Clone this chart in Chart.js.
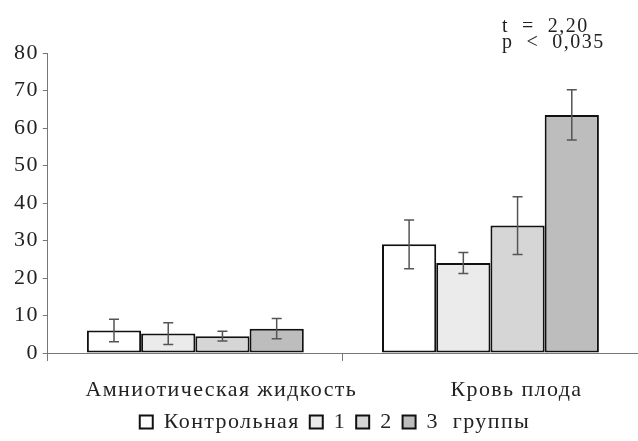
<!DOCTYPE html>
<html>
<head>
<meta charset="utf-8">
<script src="https://cdn.jsdelivr.net/npm/chart.js@4"></script>
<style>
  html, body { margin: 0; padding: 0; background: #fff; }
  #wrap { width: 638px; height: 441px; }
</style>
</head>
<body>
<div id="wrap"><canvas id="barChart"></canvas></div>
<script>
// категории и группы
const categories = ["Амниотическая жидкость", "Кровь плода"];
const groupNames = ["Контрольная", "1", "2", "3  группы"];

// средние значения по группам (контроль, 1, 2, 3)
const controlValues = [6, 29];
const group1Values = [5.2, 24];
const group2Values = [4.5, 34];
const group3Values = [6.5, 63.5];

// погрешности
const controlErr = [3, 6.5];
const group1Err = [2.9, 2.8];
const group2Err = [1.3, 7.7];
const group3Err = [2.7, 6.7];

const yTicks = [0, 10, 20, 30, 40, 50, 60, 70, 80];
const statLines = ["t  =  2,20", "p  <  0,035"];

const serif = "'Liberation Serif', 'DejaVu Serif', serif";

const fills = ["#ffffff", "#ebebeb", "#d6d6d6", "#bdbdbd"];
const allValues = [controlValues, group1Values, group2Values, group3Values];
const allErrors = [controlErr, group1Err, group2Err, group3Err];

const datasets = groupNames.map((name, i) => ({
  label: name,
  data: allValues[i],
  errors: allErrors[i],
  backgroundColor: fills[i],
  borderColor: "#111",
  borderWidth: 2,
  borderSkipped: false,
}));

// шрифт в скане шире обычного — немного разрядки
const spacing = {
  id: "spacing",
  beforeUpdate(chart) { chart.ctx.letterSpacing = "1.4px"; },
  beforeDraw(chart) { chart.ctx.letterSpacing = "1.4px"; },
  // легенда в оригинале чуть правее центра
  afterLayout(chart) {
    chart.legend.left += 11;
    chart.legend.right += 11;
  },
};

// усы погрешностей
const errorBars = {
  id: "errorBars",
  afterDatasetsDraw(chart) {
    const ctx = chart.ctx;
    const y = chart.scales.y;
    ctx.save();
    ctx.strokeStyle = "#555";
    ctx.lineWidth = 1.5;
    chart.data.datasets.forEach((ds, i) => {
      const meta = chart.getDatasetMeta(i);
      meta.data.forEach((bar, j) => {
        const v = ds.data[j], e = ds.errors[j];
        const yTop = y.getPixelForValue(v + e);
        const yBot = y.getPixelForValue(v - e);
        const x = bar.x;
        ctx.beginPath();
        ctx.moveTo(x, yTop); ctx.lineTo(x, yBot);
        ctx.moveTo(x - 5, yTop); ctx.lineTo(x + 5, yTop);
        ctx.moveTo(x - 5, yBot); ctx.lineTo(x + 5, yBot);
        ctx.stroke();
      });
    });
    ctx.restore();
  },
};

// подпись статистики
const statText = {
  id: "statText",
  afterDraw(chart) {
    const ctx = chart.ctx;
    ctx.save();
    ctx.fillStyle = "#222";
    ctx.font = "20px " + serif;
    ctx.letterSpacing = "1.5px";
    ctx.textBaseline = "alphabetic";
    ctx.fillText(statLines[0], 502, 32);
    ctx.fillText(statLines[1], 502, 48);
    ctx.restore();
  },
};

new Chart(document.getElementById("barChart"), {
  type: "bar",
  data: { labels: categories, datasets: datasets },
  plugins: [spacing, errorBars, statText],
  options: {
    responsive: true,
    maintainAspectRatio: false,
    animation: false,
    layout: { padding: { top: 53, right: 0, left: 10, bottom: -2 } },
    datasets: { bar: { categoryPercentage: 0.735, barPercentage: 1 } },
    scales: {
      x: {
        afterFit(axis) { axis.height -= 18; },
        grid: { offset: true, drawOnChartArea: false, drawTicks: true, tickLength: 8, color: "#777" },
        border: { display: true, color: "#777", width: 1 },
        ticks: { color: "#222", font: { family: serif, size: 22, lineHeight: 1 }, padding: 18, labelOffset: 26 },
      },
      y: {
        min: 0,
        max: 80,
        afterBuildTicks(axis) { axis.ticks = yTicks.map((v) => ({ value: v })); },
        grid: { drawOnChartArea: false, drawTicks: true, tickLength: 5, color: "#777" },
        border: { display: true, color: "#777", width: 1 },
        ticks: { color: "#222", font: { family: serif, size: 22 }, padding: 4 },
      },
    },
    plugins: {
      legend: {
        position: "bottom",
        labels: {
          color: "#222",
          font: { family: serif, size: 22, lineHeight: 1 },
          boxWidth: 13,
          boxHeight: 13,
          padding: 10,
        },
      },
      tooltip: { enabled: false },
    },
  },
});
</script>
</body>
</html>
